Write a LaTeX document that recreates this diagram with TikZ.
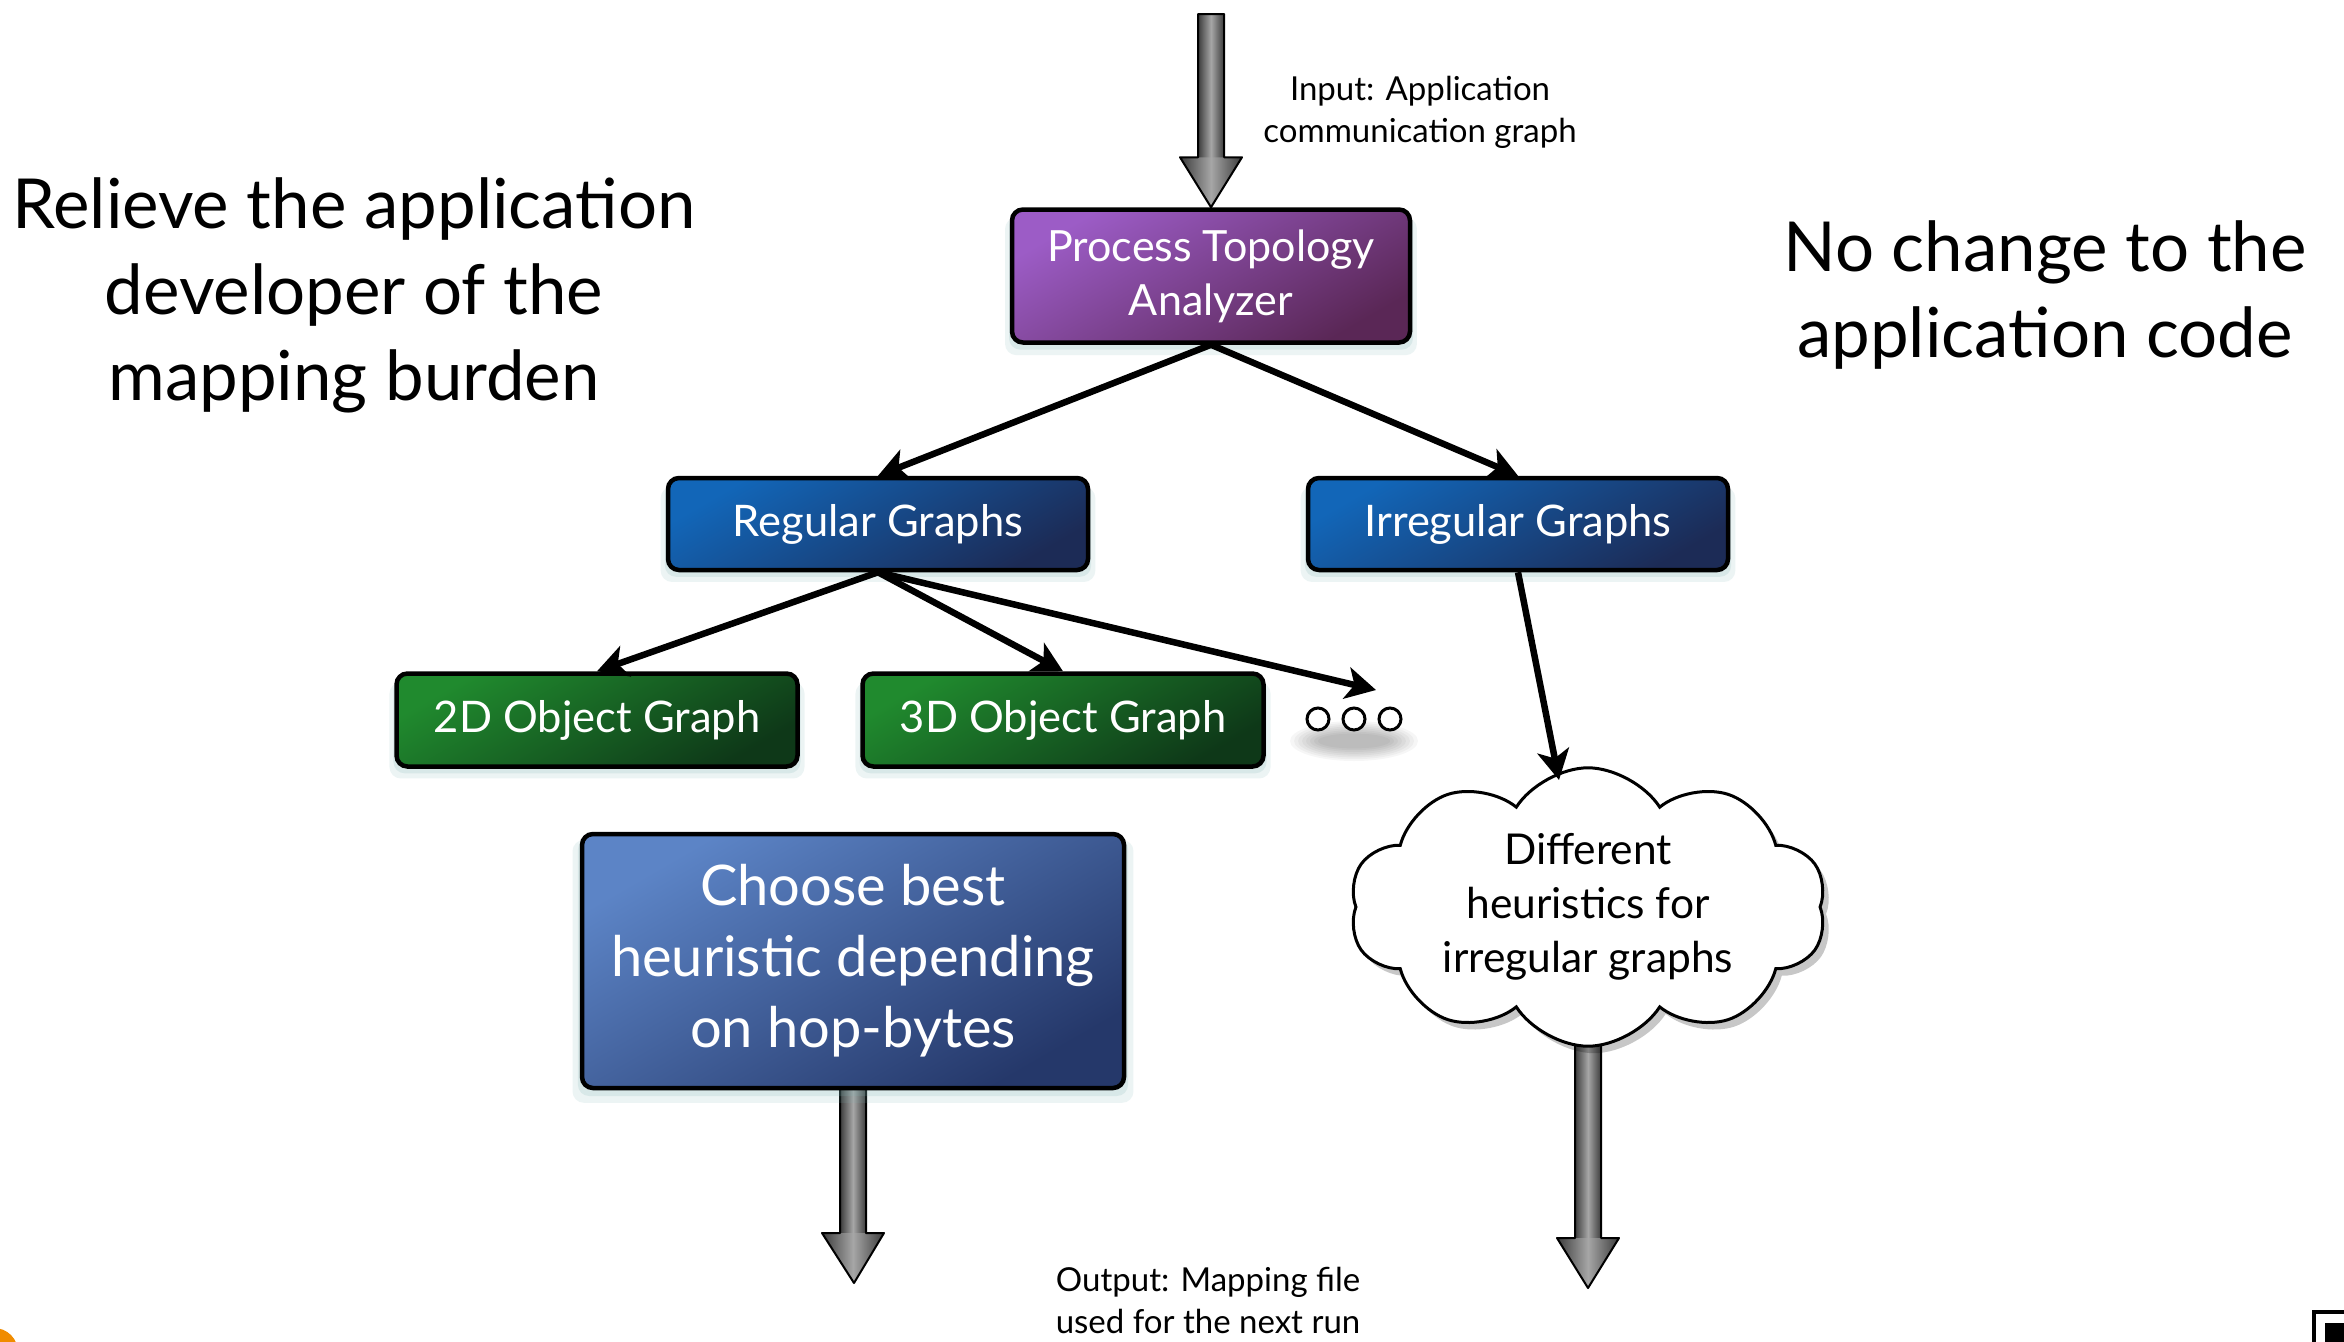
\documentclass[tikz,border=0pt]{standalone}
\usepackage{fontspec}
\setmainfont{Lato}
\usetikzlibrary{arrows.meta,calc,shapes.symbols,shadows,backgrounds}

\definecolor{ptaA}{HTML}{9C5CC6}
\definecolor{ptaB}{HTML}{5A2756}
\definecolor{blueA}{HTML}{1266B8}
\definecolor{blueB}{HTML}{1C2B56}
\definecolor{greenA}{HTML}{208A2E}
\definecolor{greenB}{HTML}{0E3818}
\definecolor{chooseA}{HTML}{5C84C6}
\definecolor{chooseB}{HTML}{25386A}
\definecolor{glowc}{HTML}{7FB3B3}
\definecolor{arrdark}{HTML}{3C3C3C}
\definecolor{arrlight}{HTML}{A6A6A6}
\definecolor{cornerorange}{HTML}{F08C00}

% thick grey block arrow from the first point down to the tip at the second
\newcommand\grayarrow[2]{%
  \path[fill=black, opacity=0.12, xshift=6pt, yshift=-5pt] let \p1=(#1), \p2=(#2) in
    (\x1-13pt,\y1) -- (\x1-13pt,\y2+50pt) -- (\x1-31pt,\y2+50pt) -- (\x2,\y2)
    -- (\x1+31pt,\y2+50pt) -- (\x1+13pt,\y2+50pt) -- (\x1+13pt,\y1) -- cycle;
  \path[left color=arrdark, right color=arrdark, middle color=arrlight]
    let \p1=(#1), \p2=(#2) in (\x1-13pt,\y1) rectangle (\x1+13pt,\y2+50pt);
  \path[left color=arrdark, right color=arrdark, middle color=arrlight]
    let \p1=(#1), \p2=(#2) in (\x1-31pt,\y2+50pt) -- (\x2,\y2) -- (\x1+31pt,\y2+50pt) -- cycle;
  \path[draw=black, line width=2pt, line join=round] let \p1=(#1), \p2=(#2) in
    (\x1-13pt,\y1) -- (\x1-13pt,\y2+50pt) -- (\x1-31pt,\y2+50pt) -- (\x2,\y2)
    -- (\x1+31pt,\y2+50pt) -- (\x1+13pt,\y2+50pt) -- (\x1+13pt,\y1) -- cycle;
}

\tikzset{
  glow/.style={
    general shadow={fill=glowc, opacity=0.14, shadow scale=1.035, shadow yshift=-10pt},
    general shadow={fill=glowc, opacity=0.18, shadow scale=1.015, shadow yshift=-6pt}},
  box/.style={rectangle, rounded corners=11pt, draw=black, line width=4.5pt,
    text=white, align=center, inner sep=0pt, glow},
  purplebox/.style={box, top color=ptaA, bottom color=ptaB, shading angle=30},
  bluebox/.style={box, top color=blueA, bottom color=blueB, shading angle=30,
    minimum width=420pt, minimum height=92pt, font=\fontsize{43.5}{54}\selectfont},
  greenbox/.style={box, top color=greenA, bottom color=greenB, shading angle=30,
    minimum width=401pt, minimum height=93pt, font=\fontsize{43.5}{54}\selectfont},
  choosebox/.style={box, top color=chooseA, bottom color=chooseB, shading angle=30},
  thought/.style={cloud, cloud puffs=10, cloud puff arc=115, aspect=1.87,
    draw=black, line width=3pt, fill=white, align=center, inner sep=0pt,
    minimum width=477pt, minimum height=255pt,
    general shadow={fill=black, opacity=0.22, shadow xshift=6pt, shadow yshift=-7pt}},
  dot/.style={circle, draw=black, line width=3pt, fill=white, minimum size=22pt,
    inner sep=0pt},
  dotshade/.style={fill=black, opacity=0.035},
  link/.style={line width=6.5pt, -{Stealth[length=30pt, width=32pt, inset=8pt]}},
  caption/.style={align=center, font=\fontsize{33}{42}\selectfont},
  bigtext/.style={align=center, font=\fontsize{69}{86}\selectfont},
}

\begin{document}
\begin{tikzpicture}[x=1pt, y=-1pt]
  \useasboundingbox (0,0) rectangle (2344,1341);
  \clip (0,0) rectangle (2344,1341);

  % side statements
  \node[bigtext] (relieve) at (354,295) {Relieve the application\\developer of the\\mapping burden};
  \node[bigtext] (nochange) at (2045,295) {No change to the\\application code};

  % input / output notes
  \node[caption] (inlbl) at (1420,112) {Input: Application\\communication graph};
  \node[caption] (outlbl) at (1208,1300) {Output: Mapping file\\used for the next run};

  % boxes
  \node[purplebox, minimum width=398pt, minimum height=133pt,
        font=\fontsize{43}{54}\selectfont] (pta) at (1211,276) {Process Topology\\Analyzer};
  \node[bluebox] (reg) at (878,524) {Regular Graphs};
  \node[bluebox] (irr) at (1518,524) {Irregular Graphs};
  \node[greenbox] (g2) at (597,720) {2D Object Graph};
  \node[greenbox] (g3) at (1063,720) {3D Object Graph};
  \node[choosebox, minimum width=542pt, minimum height=254pt,
        font=\fontsize{56}{71}\selectfont] (choose) at (853,961)
        {Choose best\\heuristic depending\\on hop-bytes};
  \node[thought, font=\fontsize{42.5}{54}\selectfont] (heur) at (1588,907)
        {Different\\heuristics for\\irregular graphs};

  % "more" marker
  \node[dot] (d1) at (1318,719) {};
  \node[dot] (d2) at (1354,719) {};
  \node[dot] (d3) at (1390,719) {};

  \coordinate (src) at (1211,14);
  \coordinate (more) at (1376,690);
  \coordinate (cloudtop) at (1559,780);
  \coordinate (out1) at (854,1283);
  \coordinate (out2) at (1588,1288);

  % white page, soft shadow under the dots, grey block arrows behind the boxes
  \begin{pgfonlayer}{background}
    \fill[white] (0,0) rectangle (2344,1341);
    \foreach \r in {0,...,7}
      \fill[dotshade] ($(d2)+(0,22)$) ellipse ({64-4*\r} and {20-1.8*\r});
    \grayarrow{src}{pta.north}
    \grayarrow{choose.center}{out1}
    \grayarrow{heur.center}{out2}
  \end{pgfonlayer}

  % connectors
  \draw[link] (pta.south) -- (reg.north);
  \draw[link] (pta.south) -- (irr.north);
  \draw[link] (reg.south) -- (g2.north);
  \draw[link] (reg.south) -- (g3.north);
  \draw[link] (reg.south) -- (more);
  \draw[link] (irr.south) -- (cloudtop);

  % slide corner marks
  \fill[cornerorange] (-6,1352) circle (24);
  \draw[line width=4pt] (2314,1312) rectangle (2390,1390);
  \fill (2325,1323) rectangle (2390,1390);
\end{tikzpicture}
\end{document}
